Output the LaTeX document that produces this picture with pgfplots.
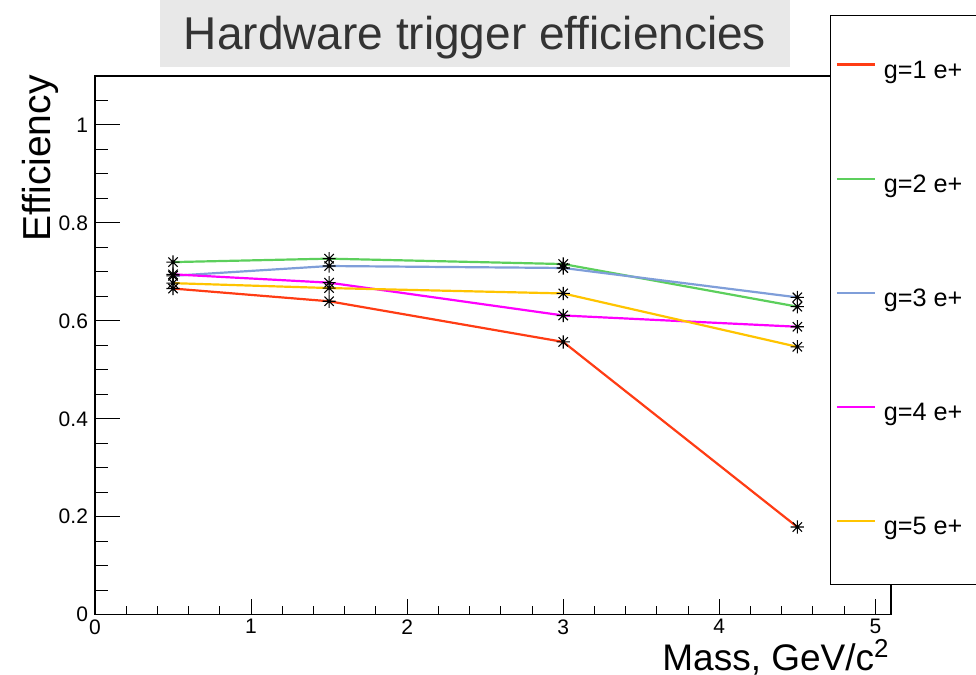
\documentclass[border=0pt]{standalone}
\usepackage{pgfplots}
\pgfplotsset{compat=1.18}
\usepackage{fontspec}
\setmainfont{Liberation Sans}

\definecolor{cRed}{HTML}{FF3C14}
\definecolor{cGreen}{HTML}{5CCF5C}
\definecolor{cBlue}{HTML}{7F9ED9}
\definecolor{cMagenta}{HTML}{FF00FF}
\definecolor{cYellow}{HTML}{FFC400}
\definecolor{titlegray}{HTML}{E8E8E8}
\definecolor{titletext}{HTML}{333333}

% eight-armed star marker (+ and x combined)
\pgfdeclareplotmark{rootstar}{%
  \pgfpathmoveto{\pgfqpoint{-\pgfplotmarksize}{0pt}}%
  \pgfpathlineto{\pgfqpoint{\pgfplotmarksize}{0pt}}%
  \pgfpathmoveto{\pgfqpoint{0pt}{-\pgfplotmarksize}}%
  \pgfpathlineto{\pgfqpoint{0pt}{\pgfplotmarksize}}%
  \pgfpathmoveto{\pgfqpoint{-0.707\pgfplotmarksize}{-0.707\pgfplotmarksize}}%
  \pgfpathlineto{\pgfqpoint{0.707\pgfplotmarksize}{0.707\pgfplotmarksize}}%
  \pgfpathmoveto{\pgfqpoint{-0.707\pgfplotmarksize}{0.707\pgfplotmarksize}}%
  \pgfpathlineto{\pgfqpoint{0.707\pgfplotmarksize}{-0.707\pgfplotmarksize}}%
  \pgfusepathqstroke}

\begin{document}
\begin{tikzpicture}
\useasboundingbox (0,0) rectangle (488pt,337.5pt);
% title panel
\fill[titlegray] (80pt,304pt) rectangle (395pt,340pt);
\node[anchor=base, font=\fontsize{23}{27}\selectfont, text=titletext, inner sep=0pt]
  at (237.5pt,312.5pt) {Hardware trigger efficiencies};
\begin{axis}[
  at={(47.5pt,30.15pt)}, anchor=south west,
  scale only axis, width=398pt, height=269.35pt,
  xmin=0, xmax=5.1, ymin=0, ymax=1.1,
  xtick={0,1,2,3,4,5},
  ytick={0,0.2,0.4,0.6,0.8,1},
  minor x tick num=4,
  minor ytick={0.05,0.1,0.15,0.25,0.3,0.35,0.45,0.5,0.55,0.65,0.7,0.75,0.85,0.9,0.95,1.05},
  tick pos=left, tick align=inside,
  axis line style={line width=0.6pt},
  every tick/.style={black, line width=0.5pt},
  xtick style={/pgfplots/major tick length=8pt, /pgfplots/minor tick length=4.5pt},
  ytick style={/pgfplots/major tick length=12.5pt, /pgfplots/minor tick length=6.5pt},
  ticklabel style={font=\fontsize{10.5}{12}\selectfont},
  /pgf/number format/assume math mode=true,
  xticklabel style={yshift=1.2pt},
  xlabel={Mass, GeV/c\textsuperscript{2}},
  ylabel={Efficiency},
  xlabel style={at={(rel axis cs:0.9987,-0.1027)}, anchor=base east, inner sep=0pt,
                font=\fontsize{18.5}{21}\selectfont},
  ylabel style={at={(rel axis cs:-0.0565,1.0019)}, anchor=base east, inner sep=0pt,
                font=\fontsize{19.5}{22}\selectfont},
  legend cell align=left,
  legend image code/.code={\draw[#1, mark=none] (0pt,3.6pt) -- (19pt,3.6pt);},
  legend style={at={(rel axis cs:0.9234,1.1132)}, anchor=north west,
                draw=black, fill=white, line width=0.7pt,
                font=\fontsize{12.6}{14}\selectfont,
                inner xsep=2.5pt, inner ysep=22.2pt,
                row sep=45.5pt, column sep=4pt,
                nodes={inner sep=0pt, text height=9pt, text depth=2.6pt}},
  every axis plot/.append style={line width=1.1pt, mark=rootstar, mark size=3.3pt,
                mark options={black, solid, line width=0.55pt}},
]
\addplot[cRed] coordinates {(0.5,0.666) (1.5,0.640) (3,0.557) (4.5,0.179)};
\addlegendentry{g=1 e+\kern20pt}
\addplot[cGreen] coordinates {(0.5,0.720) (1.5,0.727) (3,0.716) (4.5,0.629)};
\addlegendentry{g=2 e+\kern20pt}
\addplot[cBlue] coordinates {(0.5,0.692) (1.5,0.712) (3,0.708) (4.5,0.648)};
\addlegendentry{g=3 e+\kern20pt}
\addplot[cMagenta] coordinates {(0.5,0.695) (1.5,0.678) (3,0.611) (4.5,0.588)};
\addlegendentry{g=4 e+\kern20pt}
\addplot[cYellow] coordinates {(0.5,0.677) (1.5,0.667) (3,0.656) (4.5,0.547)};
\addlegendentry{g=5 e+\kern20pt}
\end{axis}
\end{tikzpicture}
\end{document}
